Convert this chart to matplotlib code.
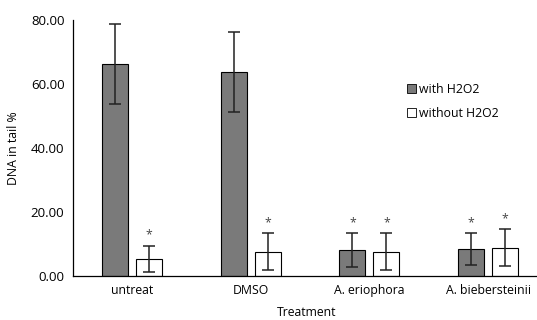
import numpy as np
import matplotlib.pyplot as plt
from matplotlib.patches import Patch

plt.rcParams['font.family'] = ['Open Sans', 'DejaVu Sans']

#-----------------------
# Data
#-----------------------

treatments = ['untreat', 'DMSO', 'A. eriophora', 'A. biebersteinii']
with_h2o2    = [66.2, 63.8, 8.1, 8.4]
with_err     = [12.6, 12.5, 5.2, 5.0]
without_h2o2 = [5.3, 7.6, 7.6, 8.9]
without_err  = [4.2, 5.7, 5.8, 5.9]
star_with    = [False, False, True, True]
star_without = [True, True, True, True]

#-----------------------
# Plot
#-----------------------

fig = plt.figure(figsize=(5.37, 3.2), dpi=100)
ax = fig.add_axes([0.1354, 0.1375, 0.884, 0.8])

x = np.arange(len(treatments))
bw, off = 0.22, 0.143
fs = 8.8
ekw = dict(ecolor='#222222', elinewidth=1.1, capsize=4.5, capthick=1.1)

ax.bar(x-off, with_h2o2, bw, yerr=with_err, color='#7a7a7a', edgecolor='k', lw=0.8, error_kw=ekw)
ax.bar(x+off, without_h2o2, bw, yerr=without_err, color='white', edgecolor='k', lw=0.8, error_kw=ekw)

for i in range(len(x)):
    if star_with[i]:
        ax.text(x[i]-off, with_h2o2[i]+with_err[i]+1.2, '*', ha='center', va='bottom', fontsize=fs, color='#444444')
    if star_without[i]:
        ax.text(x[i]+off, without_h2o2[i]+without_err[i]+1.2, '*', ha='center', va='bottom', fontsize=fs, color='#444444')

ax.set_xlim(-0.5, 3.5)
ax.set_ylim(0, 80)
ax.set_yticks(np.arange(0, 81, 20))
ax.set_yticklabels(['%.2f' % v for v in np.arange(0, 81, 20)], fontsize=9.5)
ax.set_xticks(x)
ax.set_xticklabels(treatments, fontsize=fs)
ax.tick_params(length=0, pad=6)
ax.spines['top'].set_visible(False)
ax.spines['right'].set_visible(False)
ax.spines['left'].set_linewidth(0.9)
ax.spines['bottom'].set_linewidth(0.9)

ax.set_ylabel('DNA in tail %', fontsize=fs, labelpad=8)
fig.text(307/537, 1-313/320, 'Treatment', ha='center', va='center', fontsize=fs)

handles = [Patch(facecolor='#7a7a7a', edgecolor='k', lw=0.6, label='with H2O2'),
           Patch(facecolor='white', edgecolor='k', lw=0.6, label='without H2O2')]
fig.legend(handles=handles, loc='upper left', bbox_to_anchor=(396/537, 1-72/320), frameon=False,
           fontsize=fs, handlelength=0.7, handleheight=0.7, handletextpad=0.3, labelspacing=0.9)

plt.savefig('out.png', dpi=100)
